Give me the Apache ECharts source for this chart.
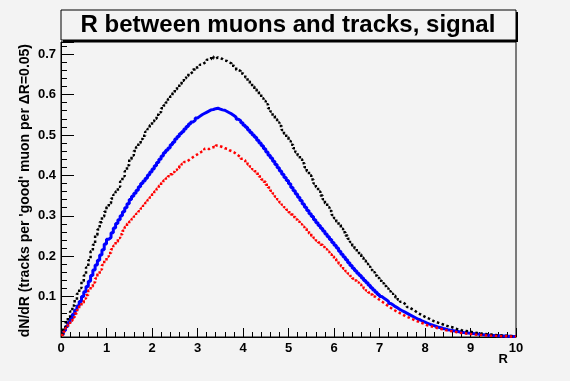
<!DOCTYPE html>
<html>
<head>
<meta charset="utf-8">
<script src="https://cdn.jsdelivr.net/npm/echarts@6/dist/echarts.min.js"></script>
<style>
  html, body { margin: 0; padding: 0; background: #f3f3f3; }
  #chart { width: 570px; height: 381px; }
</style>
</head>
<body>
<div id="chart"></div>
<script>
const titleText = 'R between muons and tracks, signal'
const xTitle = 'R'
const yTitle = "dN/dR (tracks per 'good' muon per \u0394R=0.05)"
const binWidth = 0.05

// 200 bins of 0.05 from R=0 to R=10
const blackCounts = [
  0.008, 0.022, 0.036, 0.05, 0.063, 0.078, 0.092, 0.107, 0.121, 0.138,
  0.152, 0.172, 0.19, 0.212, 0.228, 0.252, 0.266, 0.284, 0.298, 0.31,
  0.322, 0.331, 0.343, 0.352, 0.36, 0.372, 0.385, 0.398, 0.41, 0.425,
  0.44, 0.449, 0.46, 0.47, 0.48, 0.49, 0.498, 0.508, 0.515, 0.524,
  0.534, 0.54, 0.55, 0.556, 0.566, 0.573, 0.58, 0.589, 0.596, 0.604,
  0.613, 0.618, 0.626, 0.634, 0.64, 0.646, 0.652, 0.656, 0.662, 0.667,
  0.669, 0.674, 0.678, 0.681, 0.686, 0.688, 0.694, 0.689, 0.692, 0.69,
  0.688, 0.684, 0.683, 0.679, 0.677, 0.671, 0.668, 0.661, 0.658, 0.652,
  0.648, 0.642, 0.633, 0.627, 0.62, 0.613, 0.606, 0.6, 0.591, 0.584,
  0.576, 0.566, 0.558, 0.547, 0.539, 0.531, 0.522, 0.512, 0.503, 0.494,
  0.485, 0.476, 0.467, 0.457, 0.449, 0.44, 0.43, 0.42, 0.41, 0.4,
  0.39, 0.38, 0.371, 0.36, 0.35, 0.341, 0.331, 0.321, 0.312, 0.302,
  0.294, 0.285, 0.277, 0.268, 0.259, 0.251, 0.243, 0.235, 0.226, 0.219,
  0.211, 0.204, 0.196, 0.189, 0.181, 0.174, 0.166, 0.16, 0.152, 0.146,
  0.139, 0.133, 0.126, 0.12, 0.113, 0.107, 0.102, 0.097, 0.092, 0.087,
  0.083, 0.079, 0.074, 0.07, 0.067, 0.063, 0.059, 0.056, 0.053, 0.05,
  0.047, 0.045, 0.042, 0.039, 0.037, 0.035, 0.033, 0.031, 0.029, 0.027,
  0.025, 0.024, 0.022, 0.02, 0.019, 0.017, 0.016, 0.015, 0.014, 0.013,
  0.012, 0.011, 0.01, 0.009, 0.0085, 0.008, 0.0072, 0.0065, 0.006, 0.0054,
  0.005, 0.0045, 0.004, 0.0036, 0.0032, 0.003, 0.0026, 0.0022, 0.0019, 0.0015
]

const blueCounts = [
  0.006, 0.016, 0.026, 0.036, 0.046, 0.056, 0.066, 0.077, 0.088, 0.1,
  0.112, 0.125, 0.138, 0.152, 0.166, 0.178, 0.19, 0.203, 0.216, 0.23,
  0.242, 0.246, 0.258, 0.27, 0.281, 0.29, 0.3, 0.31, 0.32, 0.33,
  0.34, 0.348, 0.356, 0.363, 0.372, 0.38, 0.386, 0.393, 0.401, 0.408,
  0.416, 0.424, 0.432, 0.44, 0.448, 0.456, 0.462, 0.468, 0.476, 0.482,
  0.49, 0.496, 0.503, 0.508, 0.515, 0.521, 0.527, 0.532, 0.536, 0.542,
  0.546, 0.55, 0.553, 0.556, 0.559, 0.562, 0.563, 0.565, 0.566, 0.564,
  0.562, 0.561, 0.558, 0.555, 0.552, 0.548, 0.544, 0.539, 0.535, 0.53,
  0.524, 0.519, 0.512, 0.506, 0.5, 0.494, 0.487, 0.48, 0.473, 0.466,
  0.458, 0.45, 0.443, 0.435, 0.427, 0.419, 0.411, 0.403, 0.395, 0.387,
  0.379, 0.37, 0.362, 0.354, 0.346, 0.338, 0.329, 0.321, 0.313, 0.305,
  0.298, 0.29, 0.283, 0.276, 0.269, 0.262, 0.255, 0.248, 0.241, 0.234,
  0.227, 0.22, 0.212, 0.205, 0.198, 0.191, 0.184, 0.177, 0.17, 0.164,
  0.158, 0.152, 0.146, 0.14, 0.134, 0.128, 0.122, 0.116, 0.111, 0.105,
  0.1, 0.096, 0.092, 0.088, 0.083, 0.079, 0.075, 0.072, 0.068, 0.065,
  0.062, 0.059, 0.056, 0.053, 0.05, 0.047, 0.044, 0.042, 0.039, 0.037,
  0.034, 0.032, 0.03, 0.028, 0.026, 0.024, 0.023, 0.021, 0.02, 0.018,
  0.017, 0.016, 0.015, 0.014, 0.013, 0.012, 0.011, 0.0105, 0.0098, 0.009,
  0.0084, 0.0078, 0.0072, 0.0066, 0.006, 0.0055, 0.005, 0.0046, 0.0042, 0.0038,
  0.0035, 0.0032, 0.0029, 0.0026, 0.0023, 0.002, 0.0018, 0.0016, 0.0014, 0.0012
]

const redCounts = [
  0.005, 0.013, 0.022, 0.031, 0.04, 0.049, 0.058, 0.067, 0.076, 0.085,
  0.095, 0.104, 0.115, 0.125, 0.135, 0.145, 0.156, 0.167, 0.178, 0.189,
  0.199, 0.208, 0.217, 0.226, 0.236, 0.245, 0.254, 0.263, 0.272, 0.28,
  0.286, 0.292, 0.298, 0.305, 0.311, 0.318, 0.325, 0.332, 0.339, 0.346,
  0.353, 0.36, 0.367, 0.374, 0.381, 0.387, 0.392, 0.398, 0.403, 0.408,
  0.413, 0.418, 0.423, 0.428, 0.433, 0.437, 0.441, 0.445, 0.449, 0.452,
  0.456, 0.459, 0.461, 0.466, 0.465, 0.468, 0.47, 0.469, 0.474, 0.472,
  0.47, 0.467, 0.466, 0.462, 0.46, 0.457, 0.453, 0.449, 0.446, 0.441,
  0.437, 0.432, 0.427, 0.421, 0.415, 0.41, 0.404, 0.397, 0.39, 0.384,
  0.377, 0.37, 0.362, 0.355, 0.347, 0.34, 0.333, 0.327, 0.321, 0.315,
  0.309, 0.303, 0.297, 0.291, 0.285, 0.279, 0.273, 0.268, 0.262, 0.256,
  0.25, 0.245, 0.239, 0.234, 0.228, 0.223, 0.217, 0.211, 0.205, 0.199,
  0.193, 0.187, 0.181, 0.175, 0.169, 0.163, 0.157, 0.151, 0.145, 0.14,
  0.135, 0.13, 0.125, 0.12, 0.115, 0.11, 0.105, 0.1, 0.096, 0.092,
  0.088, 0.084, 0.08, 0.076, 0.072, 0.068, 0.065, 0.062, 0.059, 0.056,
  0.053, 0.05, 0.048, 0.045, 0.043, 0.04, 0.038, 0.036, 0.034, 0.032,
  0.029, 0.028, 0.026, 0.024, 0.023, 0.021, 0.02, 0.019, 0.017, 0.016,
  0.015, 0.014, 0.013, 0.012, 0.011, 0.01, 0.0095, 0.0088, 0.008, 0.0074,
  0.0068, 0.0062, 0.0057, 0.0052, 0.0048, 0.0044, 0.004, 0.0037, 0.0034, 0.0031,
  0.0028, 0.0026, 0.0023, 0.0021, 0.0019, 0.0017, 0.0015, 0.0013, 0.0011, 0.001
]

const FONT = "'Liberation Sans', Arial, Helvetica, sans-serif"
const BG = '#f3f3f3'

// histogram outline: one point per lower bin edge, plus the closing edge
const toSteps = (counts) => {
  const pts = counts.map((v, i) => [+(i * binWidth).toFixed(2), v])
  pts.push([+(counts.length * binWidth).toFixed(2), counts[counts.length - 1]])
  return pts
}

const histSeries = (counts, color, width, dash) => ({
  type: 'line',
  step: 'end',
  showSymbol: false,
  clip: true,
  xAxisIndex: 0,
  yAxisIndex: 0,
  lineStyle: { color, width, type: dash || 'solid', cap: 'butt' },
  data: toSteps(counts),
})

const chart = echarts.init(document.getElementById('chart'), null, { renderer: 'canvas' })

chart.setOption({
  animation: false,
  backgroundColor: BG,
  grid: {
    left: 61, right: 54, top: 42, bottom: 44,
    show: true, borderColor: '#000', borderWidth: 1, backgroundColor: 'transparent',
  },
  xAxis: {
    type: 'value',
    min: 0,
    max: 10,
    interval: 1,
    axisLine: { show: true, onZero: false, lineStyle: { color: '#000', width: 1 } },
    axisTick: { show: true, inside: true, length: 9, lineStyle: { color: '#000' } },
    minorTick: { show: true, splitNumber: 5, length: 5, lineStyle: { color: '#000' } },
    splitLine: { show: false },
    axisLabel: { color: '#000', fontWeight: 'bold', fontSize: 13, fontFamily: FONT, margin: 5 },
  },
  yAxis: [
    {
      type: 'value',
      min: 0,
      max: 0.73,
      interval: 0.1,
      axisLine: { show: true, onZero: false, lineStyle: { color: '#000', width: 1 } },
      axisTick: { show: true, inside: true, length: 13, lineStyle: { color: '#000' } },
      splitLine: { show: false },
      axisLabel: {
        color: '#000', fontWeight: 'bold', fontSize: 13, fontFamily: FONT, margin: 5,
        formatter: (v) => (v > 0.001 && v < 0.71 ? v.toFixed(1) : ''),
      },
    },
    {
      // minor ticks every 0.02
      type: 'value',
      position: 'left',
      min: 0,
      max: 0.73,
      interval: 0.02,
      axisLine: { show: false },
      axisTick: { show: true, inside: true, length: 6, lineStyle: { color: '#000' } },
      axisLabel: { show: false },
      splitLine: { show: false },
    },
  ],
  graphic: [
    { type: 'rect', z: 10, shape: { x: 63, y: 12, width: 455, height: 30 }, style: { fill: '#000' } },
    {
      type: 'rect', z: 11, shape: { x: 61, y: 10, width: 455, height: 30 },
      style: { fill: BG, stroke: '#000', lineWidth: 1 },
    },
    {
      type: 'text', z: 12, x: 288, y: 25,
      style: {
        text: titleText, fill: '#000', font: `bold 24px ${FONT}`,
        align: 'center', verticalAlign: 'middle',
      },
    },
    {
      type: 'text', z: 12, x: 25, y: 44, rotation: Math.PI / 2,
      style: {
        text: yTitle, fill: '#000', font: `bold 14px ${FONT}`,
        align: 'right', verticalAlign: 'middle',
      },
    },
    {
      type: 'text', z: 12, x: 508, y: 353,
      style: { text: xTitle, fill: '#000', font: `bold 13px ${FONT}`, align: 'right', verticalAlign: 'top' },
    },
  ],
  series: [
    histSeries(blueCounts, '#0000ff', 3),
    histSeries(blackCounts, '#000000', 2.5, [2.5, 2.5]),
    histSeries(redCounts, '#ff0000', 2.5, [2.5, 2.5]),
  ],
})
</script>
</body>
</html>
